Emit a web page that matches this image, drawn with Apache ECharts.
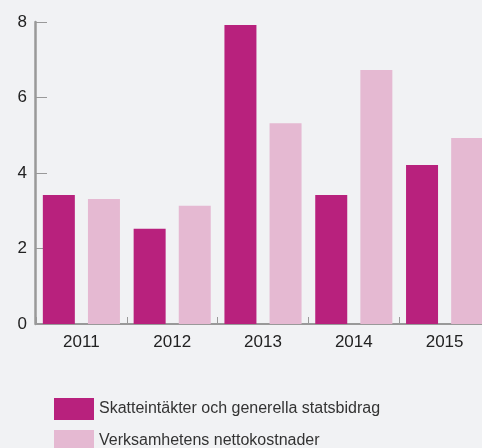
<!DOCTYPE html>
<html>
<head>
<meta charset="utf-8">
<script src="https://cdn.jsdelivr.net/npm/echarts@6/dist/echarts.min.js"></script>
<style>
  html, body { margin: 0; padding: 0; background: #f1f2f4; overflow: hidden; }
  /* canvas is a bit larger than the window: last bar and legend box run off the edge */
  #chart { width: 490px; height: 460px; }
</style>
</head>
<body>
<div id="chart"></div>
<script>
// data
const years = ["2011", "2012", "2013", "2014", "2015"];
const seriesNames = ["Skatteintäkter och generella statsbidrag", "Verksamhetens nettokostnader"];
const skatteintakter = [3.42, 2.52, 7.92, 3.42, 4.21];
const nettokostnader = [3.31, 3.13, 5.32, 6.73, 4.93];
const yTicks = [0, 2, 4, 6, 8];

const font = '"Liberation Sans", Arial, sans-serif';

// one legend per row so they stack
const legendBase = {
  left: 54,
  padding: 0,
  itemWidth: 40,
  itemHeight: 22,
  itemGap: 6,
  icon: "rect",
  textStyle: { fontFamily: font, fontSize: 16, color: "#333" }
};

const chart = echarts.init(document.getElementById("chart"));
chart.setOption({
  backgroundColor: "#f1f2f4",
  animation: false,
  textStyle: { fontFamily: font },
  grid: { left: 36, right: 0, top: 22, height: 302 },
  legend: [
    Object.assign({}, legendBase, { top: 398, data: [seriesNames[0]] }),
    Object.assign({}, legendBase, { top: 430, data: [seriesNames[1]] })
  ],
  xAxis: {
    type: "category",
    data: years,
    axisLine: { lineStyle: { color: "#999", width: 2 } },
    axisTick: { show: true, inside: true, length: 7, lineStyle: { color: "#999", width: 1 } },
    axisLabel: { color: "#222", fontSize: 17, fontFamily: font, margin: 10 }
  },
  yAxis: {
    type: "value",
    min: yTicks[0],
    max: yTicks[yTicks.length - 1],
    interval: 2,
    offset: 1,
    axisLine: { show: true, lineStyle: { color: "#999", width: 2.5 } },
    axisTick: { show: true, inside: true, length: 12, lineStyle: { color: "#999", width: 1 } },
    axisLabel: { color: "#222", fontSize: 17, fontFamily: font, margin: 8 },
    splitLine: { show: false }
  },
  series: [
    {
      name: seriesNames[0],
      type: "bar",
      data: skatteintakter,
      barWidth: 32,
      barGap: "41%",
      itemStyle: { color: "#b8217d" }
    },
    {
      name: seriesNames[1],
      type: "bar",
      data: nettokostnader,
      barWidth: 32,
      itemStyle: { color: "#e5b9d2" }
    }
  ]
});
</script>
</body>
</html>
